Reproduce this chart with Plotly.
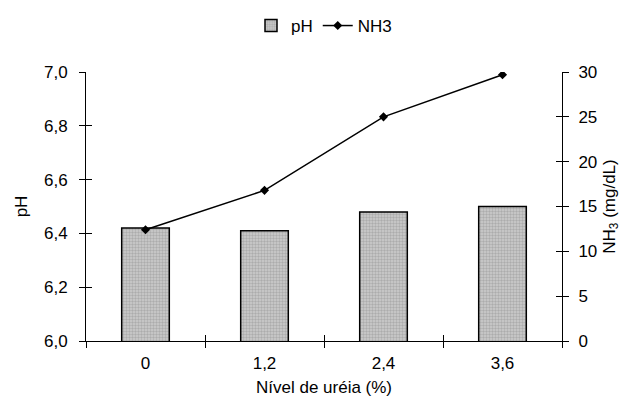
import plotly.graph_objects as go

categories = ["0", "1,2", "2,4", "3,6"]
ph_values = [6.42, 6.41, 6.48, 6.50]
nh3_values = [12.4, 16.8, 25.0, 29.7]

FONT = "Liberation Sans, Arial, sans-serif"
FS = 17

fig = go.Figure()

fig.add_trace(go.Bar(
    x=categories, y=ph_values, name="pH", width=0.4,
    marker=dict(color="#c0c0c0", line=dict(color="black", width=1.5),
                pattern=dict(shape=".", fgcolor="#8c8c8c", bgcolor="#cdcdcd", size=3, solidity=0.5)),
    base=0, xaxis="x", yaxis="y",
))
fig.add_trace(go.Scatter(
    x=categories, y=nh3_values, name="NH3", mode="lines+markers",
    line=dict(color="black", width=1.5),
    marker=dict(symbol="diamond", size=7, color="black"),
    xaxis="x", yaxis="y2",
))
# invisible helper traces so inside-tick overlay axes are drawn (crossing ticks)
fig.add_trace(go.Scatter(x=categories, y=ph_values, mode="markers", marker=dict(opacity=0),
                         showlegend=False, hoverinfo="skip", xaxis="x2", yaxis="y3"))
fig.add_trace(go.Scatter(x=categories, y=nh3_values, mode="markers", marker=dict(opacity=0),
                         showlegend=False, hoverinfo="skip", xaxis="x2", yaxis="y4"))

tickfont = dict(family=FONT, size=FS, color="black")
titlefont = dict(family=FONT, size=FS, color="black")

fig.update_layout(
    width=622, height=402,
    margin=dict(l=76, r=68, t=64, b=69),
    paper_bgcolor="white", plot_bgcolor="white",
    separators=",.",
    font=dict(family=FONT, size=FS, color="black"),
    legend=dict(orientation="h", x=0.5, xanchor="center", y=1.0, yanchor="top",
                yref="container", font=dict(family=FONT, size=FS), itemwidth=30,
                traceorder="normal", tracegroupgap=0),
    xaxis=dict(type="category", categoryorder="array", categoryarray=categories,
               range=[-0.5, 3.5], showline=True, linecolor="black", linewidth=1,
               ticks="outside", ticklen=6, tickcolor="black", tickwidth=1,
               tickson="boundaries", tickfont=tickfont, showgrid=False, zeroline=False,
               title=dict(text="Nível de uréia (%)", font=titlefont, standoff=8),
               ticklabelstandoff=7),
    xaxis2=dict(type="category", categoryorder="array", categoryarray=categories,
                range=[-0.5, 3.5], overlaying="x", anchor="y", side="bottom",
                ticks="inside", ticklen=6, tickcolor="black", tickwidth=1,
                tickson="boundaries", showticklabels=False, showline=False, showgrid=False,
                zeroline=False),
    yaxis=dict(range=[6.0, 7.0], dtick=0.2, tickformat=".1f", showline=True,
               linecolor="black", linewidth=1, ticks="outside", ticklen=6,
               tickcolor="black", tickwidth=1, tickfont=tickfont, showgrid=False,
               zeroline=False, title=dict(text="pH", font=titlefont, standoff=12),
               ticklabelstandoff=8),
    yaxis2=dict(range=[0, 30], dtick=5, overlaying="y", side="right", anchor="x",
                showline=True, linecolor="black", linewidth=1, ticks="outside", ticklen=6,
                tickcolor="black", tickwidth=1, tickfont=tickfont, showgrid=False,
                zeroline=False, ticklabelstandoff=6,
                title=dict(text="NH<sub>3</sub> (mg/dL)", font=titlefont, standoff=6)),
    yaxis3=dict(range=[6.0, 7.0], dtick=0.2, overlaying="y", side="left", anchor="x2",
                ticks="inside", ticklen=6, tickcolor="black", tickwidth=1,
                showticklabels=False, showline=False, showgrid=False, zeroline=False),
    yaxis4=dict(range=[0, 30], dtick=5, overlaying="y", side="right", anchor="x2",
                ticks="inside", ticklen=6, tickcolor="black", tickwidth=1,
                showticklabels=False, showline=False, showgrid=False, zeroline=False),
)

fig.write_html("out.html")
